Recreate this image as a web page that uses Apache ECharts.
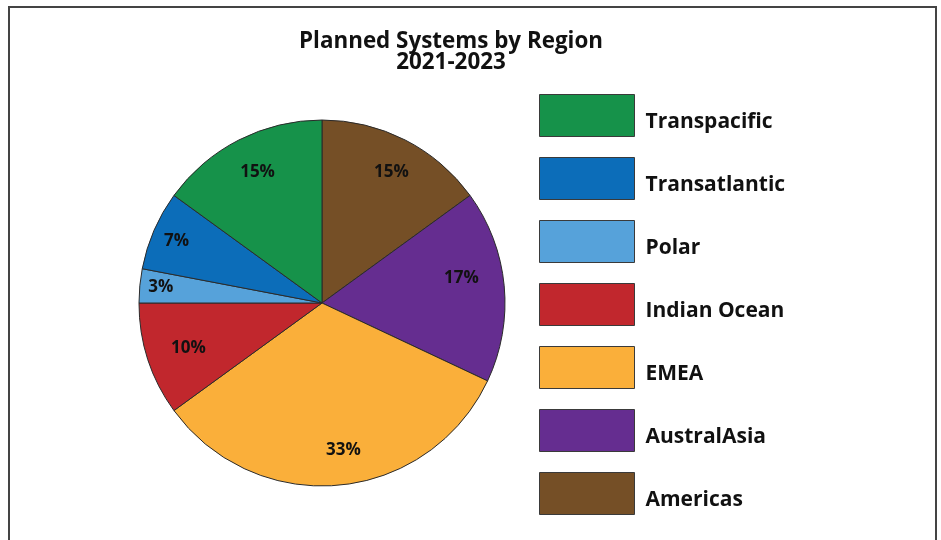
<!DOCTYPE html>
<html>
<head>
<meta charset="utf-8">
<script src="https://cdn.jsdelivr.net/npm/echarts@6/dist/echarts.min.js"></script>
<style>
  html, body { margin: 0; padding: 0; background: #fff; }
  #chart { width: 941px; height: 540px; }
</style>
</head>
<body>
<div id="chart"></div>
<script>
// Regions, clockwise from 12 o'clock
const regions = ['Americas', 'AustralAsia', 'EMEA', 'Indian Ocean', 'Polar', 'Transatlantic', 'Transpacific'];
const shares = [15, 17, 33, 10, 3, 7, 15];
const colors = ['#754F26', '#652D90', '#FAAF3A', '#C1272D', '#56A2DA', '#0C6DB9', '#16924A'];
// Legend is listed top to bottom in the opposite order
const legendOrder = ['Transpacific', 'Transatlantic', 'Polar', 'Indian Ocean', 'EMEA', 'AustralAsia', 'Americas'];

const FONT = '"Open Sans", "Noto Sans", sans-serif';
const center = [322, 303];
const R = 183;

// Small nudges for the percentage labels, [dx, dy] px, in slice order
const labelNudge = [[0, 5], [-13, -10], [7, -5], [12, -2], [-9, -1], [-5, -1], [5, 5]];

const pieData = regions.map((name, i) => ({
  name,
  value: shares[i],
  itemStyle: { color: colors[i] }
}));

const chart = echarts.init(document.getElementById('chart'), null, { renderer: 'canvas' });

chart.setOption({
  animation: false,
  backgroundColor: '#ffffff',
  title: {
    text: 'Planned Systems by Region\n2021-2023',
    left: 451,
    top: 31,
    padding: 0,
    textAlign: 'center',
    textStyle: {
      fontFamily: FONT,
      fontWeight: 'bold',
      fontSize: 22.4,
      lineHeight: 21,
      color: '#111'
    }
  },
  legend: {
    orient: 'vertical',
    left: 539,
    top: 94,
    padding: 0,
    itemWidth: 95,
    itemHeight: 42,
    itemGap: 20,
    icon: 'rect',
    selectedMode: false,
    data: legendOrder,
    itemStyle: { borderColor: '#3a3a3a', borderWidth: 1 },
    formatter: '{t|{name}}',
    textStyle: {
      rich: {
        t: {
          fontFamily: FONT,
          fontWeight: 'bold',
          fontSize: 21,
          lineHeight: 22,
          color: '#111',
          padding: [14, 0, 0, 6]
        }
      }
    }
  },
  graphic: [{
    type: 'rect',
    silent: true,
    shape: { x: 9, y: 7, width: 927, height: 600 },
    style: { fill: 'none', stroke: '#444', lineWidth: 2 }
  }],
  series: [
    {
      // Coloured slices
      type: 'pie',
      center,
      radius: [0, R],
      startAngle: 90,
      clockwise: true,
      avoidLabelOverlap: false,
      label: { show: false },
      labelLine: { show: false },
      emphasis: { disabled: true },
      itemStyle: { borderColor: '#2b2b2b', borderWidth: 1 },
      data: pieData
    },
    {
      // Transparent ring that carries the percentage labels
      type: 'pie',
      center,
      radius: [112, 188],
      startAngle: 90,
      clockwise: true,
      silent: true,
      legendHoverLink: false,
      avoidLabelOverlap: false,
      itemStyle: { color: 'rgba(0,0,0,0)', borderWidth: 0 },
      emphasis: { disabled: true },
      labelLine: { show: false },
      label: {
        show: true,
        position: 'inside',
        formatter: '{c}%',
        fontFamily: FONT,
        fontWeight: 'bold',
        fontSize: 17,
        color: '#111'
      },
      data: regions.map((name, i) => ({
        name: name + ' ',
        value: shares[i],
        label: { offset: labelNudge[i] }
      }))
    }
  ]
});
</script>
</body>
</html>
